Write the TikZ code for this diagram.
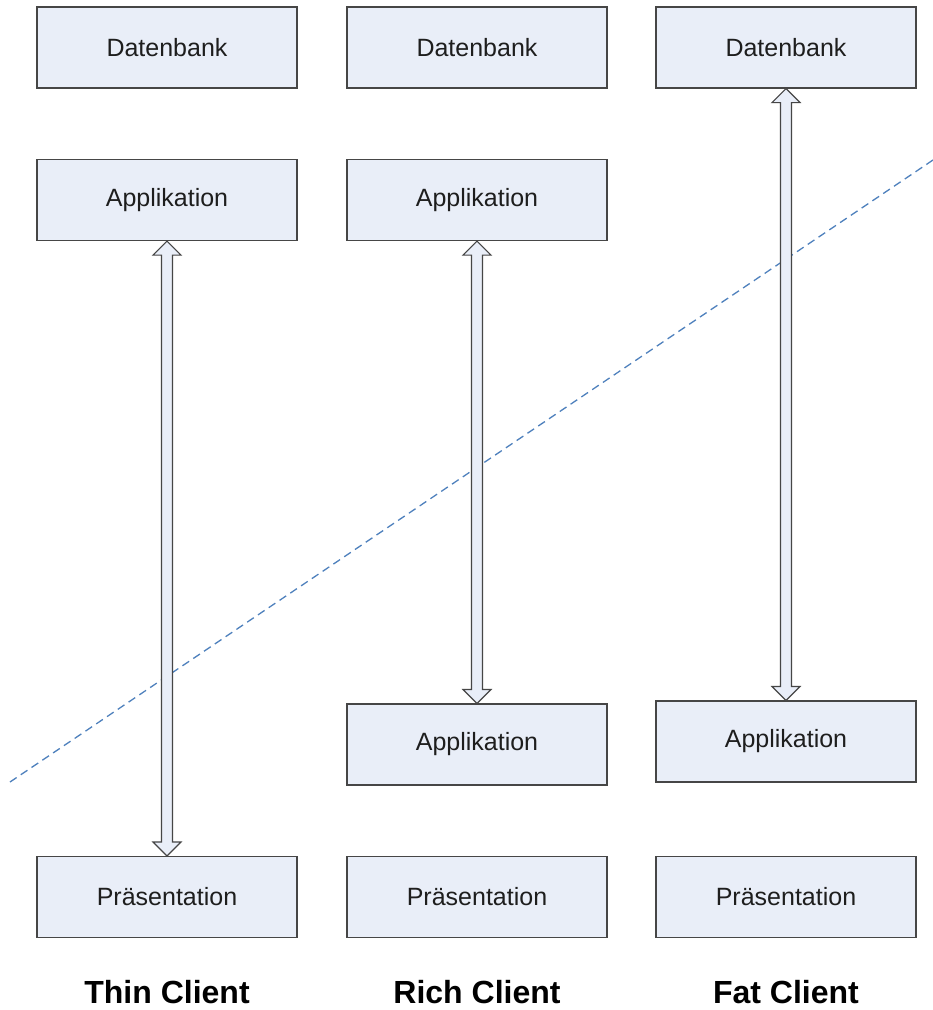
\documentclass[tikz,border=0pt]{standalone}
\usepackage{fontspec}
\setmainfont{Liberation Sans}
\usetikzlibrary{calc}
\definecolor{boxfill}{RGB}{233,238,248}
\definecolor{boxline}{RGB}{70,70,70}
\definecolor{dashblue}{RGB}{79,129,189}
\definecolor{txt}{RGB}{30,30,30}
\tikzset{
  layer/.style={draw=boxline, fill=boxfill, line width=1.2pt, minimum width=260pt, minimum height=81pt, inner sep=0pt, text=txt, font=\fontsize{25}{28}\selectfont},
  captxt/.style={font=\fontsize{32}{36}\selectfont\bfseries, text=black, inner sep=0pt},
  arr/.style={draw=boxline, fill=boxfill, line width=1.2pt, line join=miter},
  sep/.style={draw=dashblue, line width=1.3pt, dash pattern=on 8pt off 5pt}
}
\newcommand\dblarrow[2]{%
  \draw[arr] let \p1=(#1.south), \p2=(#2.north) in
    (\x1,\y1) -- (\x1+14pt,\y1-14pt) -- (\x1+5.5pt,\y1-14pt) -- (\x1+5.5pt,\y2+14pt)
    -- (\x1+14pt,\y2+14pt) -- (\x1,\y2) -- (\x1-14pt,\y2+14pt) -- (\x1-5.5pt,\y2+14pt)
    -- (\x1-5.5pt,\y1-14pt) -- (\x1-14pt,\y1-14pt) -- cycle;}
\begin{document}
\begin{tikzpicture}[x=1pt,y=1pt]
\useasboundingbox (0,0) rectangle (933,-1010);
\fill[white] (0,0) rectangle (933,-1010);
% column 1
\node[layer] (db1) at (167,-47.5) {Datenbank};
\node[layer] (app1) at (167,-200) {Applikation};
\node[layer] (pr1) at (167,-897) {Präsentation};
% column 2
\node[layer] (db2) at (477,-47.5) {Datenbank};
\node[layer] (app2) at (477,-200) {Applikation};
\node[layer] (capp2) at (477,-744.5) {Applikation};
\node[layer] (pr2) at (477,-897) {Präsentation};
% column 3
\node[layer] (db3) at (786,-47.5) {Datenbank};
\node[layer] (capp3) at (786,-741.5) {Applikation};
\node[layer] (pr3) at (786,-897) {Präsentation};
% captions
\node[captxt] (c1) at (167,-992) {Thin Client};
\node[captxt] (c2) at (477,-992) {Rich Client};
\node[captxt] (c3) at (786,-992) {Fat Client};
% dashed separation line
\coordinate (s1) at (10,-782);
\coordinate (s2) at (933,-160);
\draw[sep] (s1) -- (s2);
% arrows
\dblarrow{app1}{pr1}
\dblarrow{app2}{capp2}
\dblarrow{db3}{capp3}
\end{tikzpicture}
\end{document}
